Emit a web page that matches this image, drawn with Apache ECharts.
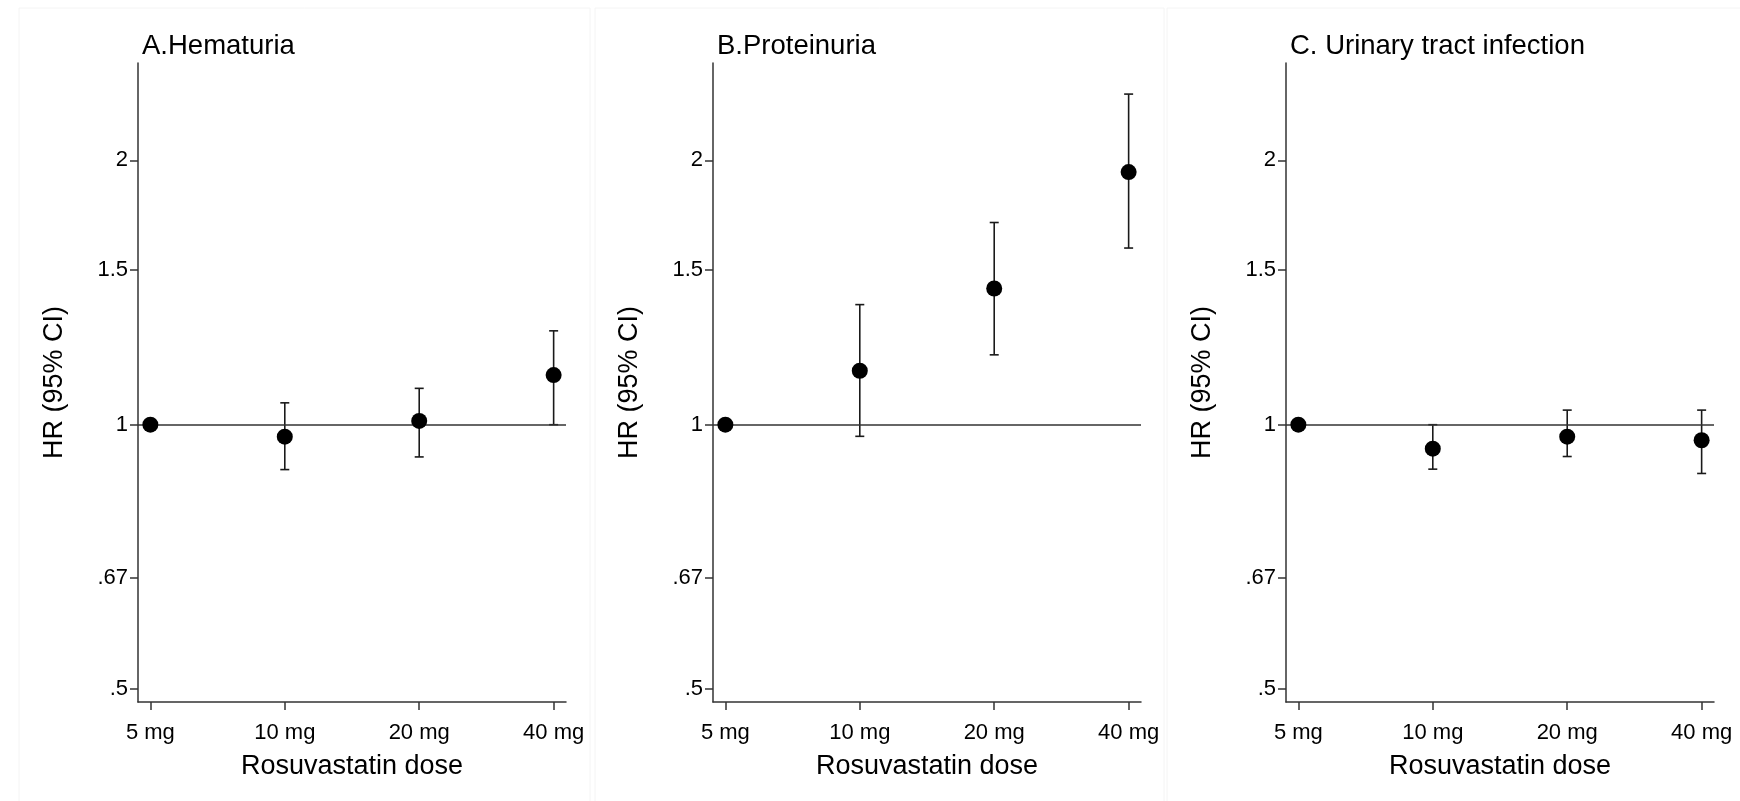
<!DOCTYPE html>
<html>
<head>
<meta charset="utf-8">
<script src="https://cdn.jsdelivr.net/npm/echarts@6/dist/echarts.min.js"></script>
<style>
  html, body { margin: 0; padding: 0; background: #fff; }
  #chart { width: 1740px; height: 801px; }
</style>
</head>
<body>
<div id="chart"></div>
<script>
// dose categories and y ticks
var doses = ['5 mg', '10 mg', '20 mg', '40 mg'];
var yTickVals = [0.5, 0.67, 1, 1.5, 2];
var yTickLabels = ['.5', '.67', '1', '1.5', '2'];
var yRange = [0.4834, 2.581];

// A. Hematuria
var hemHR = [1, 0.969, 1.01, 1.139];
var hemLo = [null, 0.889, 0.919, 1.0];
var hemHi = [null, 1.059, 1.10, 1.279];
// B. Proteinuria
var proHR = [1, 1.152, 1.429, 1.939];
var proLo = [null, 0.970, 1.201, 1.589];
var proHi = [null, 1.370, 1.699, 2.379];
// C. Urinary tract infection
var utiHR = [1, 0.939, 0.969, 0.960];
var utiLo = [null, 0.890, 0.920, 0.880];
var utiHi = [null, 1.0, 1.039, 1.039];

var panels = [
    {title: 'A.Hematuria', hr: hemHR, lo: hemLo, hi: hemHi},
    {title: 'B.Proteinuria', hr: proHR, lo: proLo, hi: proHi},
    {title: 'C. Urinary tract infection', hr: utiHR, lo: utiLo, hi: utiHi}
];

var FONT = '"Liberation Sans", Arial, sans-serif';
var gridLeft = [138, 713, 1286];
var axisColor = '#333';

var myChart = echarts.init(document.getElementById('chart'));

var option = {
    backgroundColor: '#fff',
    animation: false,
    textStyle: {fontFamily: FONT, color: '#000'},
    title: [],
    grid: [],
    xAxis: [],
    yAxis: [],
    series: [],
    graphic: [
        // faint panel frames
        {type: 'rect', shape: {x: 19, y: 8, width: 571, height: 800}, style: {fill: 'none', stroke: '#f4f4f4', lineWidth: 1}, silent: true},
        {type: 'rect', shape: {x: 595, y: 8, width: 569, height: 800}, style: {fill: 'none', stroke: '#f4f4f4', lineWidth: 1}, silent: true},
        {type: 'rect', shape: {x: 1167, y: 8, width: 580, height: 800}, style: {fill: 'none', stroke: '#f4f4f4', lineWidth: 1}, silent: true}
    ]
};

panels.forEach(function (p, i) {
    option.title.push({
        text: p.title,
        left: gridLeft[i] + 4,
        top: 32,
        padding: 0,
        textStyle: {fontFamily: FONT, fontSize: 27.5, fontWeight: 'normal', color: '#000'}
    });
    option.grid.push({left: gridLeft[i], top: 63, width: 428, height: 639});
    option.xAxis.push({
        type: 'value',
        gridIndex: i,
        min: -0.092,
        max: 3.092,
        name: 'Rosuvastatin dose',
        nameLocation: 'middle',
        nameGap: 51,
        nameTextStyle: {fontFamily: FONT, fontSize: 27, color: '#000'},
        splitLine: {show: false},
        axisLine: {show: true, onZero: false, lineStyle: {color: axisColor, width: 1.5}},
        axisTick: {show: true, length: 8, customValues: [0, 1, 2, 3], lineStyle: {color: axisColor, width: 1.5}},
        axisLabel: {
            customValues: [0, 1, 2, 3],
            margin: 20,
            fontSize: 22,
            fontFamily: FONT,
            color: '#000',
            formatter: function (v) { return doses[Math.round(v)]; }
        }
    });
    option.yAxis.push({
        type: 'value',
        gridIndex: i,
        min: Math.log(yRange[0]),
        max: Math.log(yRange[1]),
        name: 'HR (95% CI)',
        nameLocation: 'middle',
        nameGap: 70,
        nameTextStyle: {fontFamily: FONT, fontSize: 27, color: '#000'},
        splitLine: {show: false},
        axisLine: {show: true, onZero: false, lineStyle: {color: axisColor, width: 1.5}},
        axisTick: {show: true, length: 8, customValues: yTickVals.map(Math.log), lineStyle: {color: axisColor, width: 1.5}},
        axisLabel: {
            customValues: yTickVals.map(Math.log),
            margin: 10,
            fontSize: 22,
            fontFamily: FONT,
            color: '#000',
            formatter: function (v) {
                for (var k = 0; k < yTickVals.length; k++) {
                    if (Math.abs(Math.log(yTickVals[k]) - v) < 1e-6) return yTickLabels[k];
                }
                return '';
            }
        }
    });

    // 95% CI bars
    var ciData = [];
    for (var k = 0; k < doses.length; k++) {
        if (p.lo[k] != null) ciData.push([k, Math.log(p.lo[k]), Math.log(p.hi[k])]);
    }
    option.series.push({
        type: 'custom',
        xAxisIndex: i,
        yAxisIndex: i,
        z: 2,
        silent: true,
        data: ciData,
        encode: {x: 0, y: [1, 2]},
        renderItem: function (params, api) {
            var x = api.value(0);
            var pLo = api.coord([x, api.value(1)]);
            var pHi = api.coord([x, api.value(2)]);
            var cap = 4.5;
            var st = {stroke: '#1a1a1a', lineWidth: 1.6};
            return {
                type: 'group',
                children: [
                    {type: 'line', shape: {x1: pLo[0], y1: pLo[1], x2: pHi[0], y2: pHi[1]}, style: st},
                    {type: 'line', shape: {x1: pLo[0] - cap, y1: pLo[1], x2: pLo[0] + cap, y2: pLo[1]}, style: st},
                    {type: 'line', shape: {x1: pHi[0] - cap, y1: pHi[1], x2: pHi[0] + cap, y2: pHi[1]}, style: st}
                ]
            };
        },
        markLine: {
            silent: true,
            symbol: ['none', 'none'],
            label: {show: false},
            lineStyle: {color: axisColor, width: 1.5, type: 'solid'},
            data: [{yAxis: 0}]
        }
    });

    // point estimates
    option.series.push({
        type: 'scatter',
        xAxisIndex: i,
        yAxisIndex: i,
        z: 5,
        symbol: 'circle',
        symbolSize: 16,
        itemStyle: {color: '#000', opacity: 1},
        data: p.hr.map(function (v, k) { return [k, Math.log(v)]; })
    });
});

myChart.setOption(option);
</script>
</body>
</html>
